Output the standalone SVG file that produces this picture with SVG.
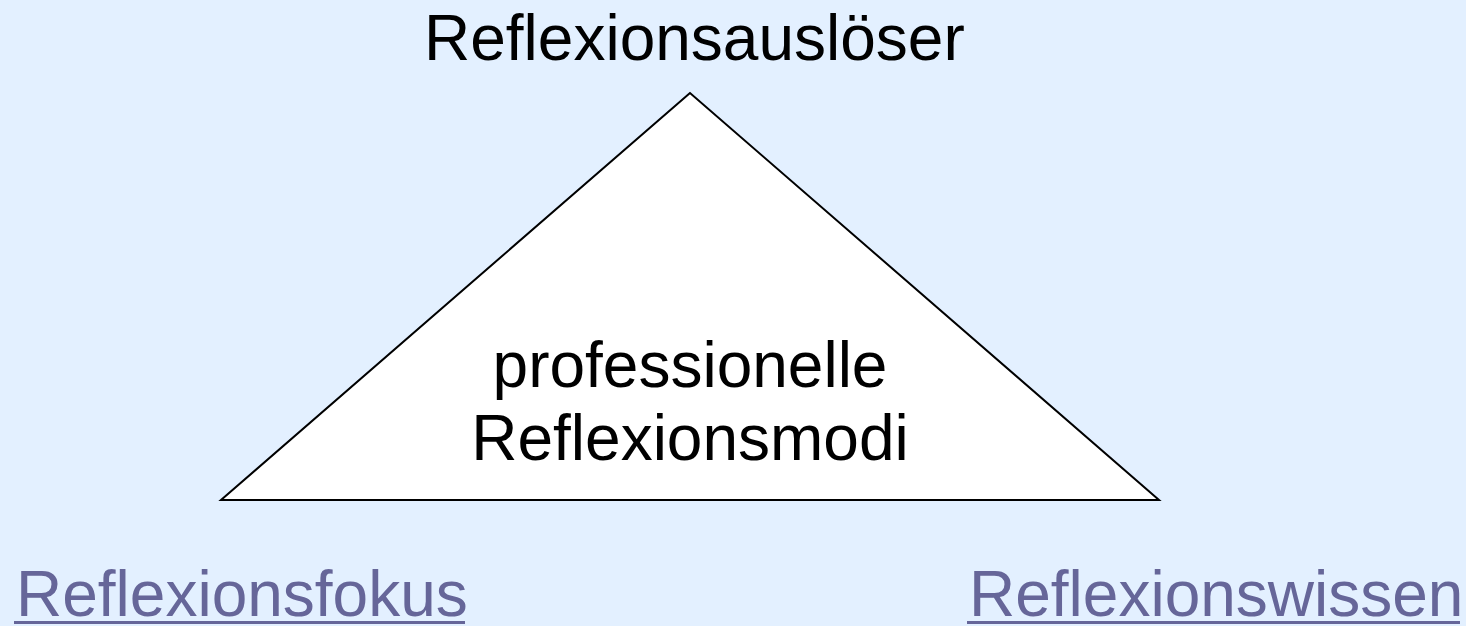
<svg xmlns="http://www.w3.org/2000/svg" width="1466" height="626" viewBox="0 0 1466 626">
<style>
.t{font-family:"Liberation Sans",Arial,sans-serif;font-size:64px;fill:#000}
.l{fill:#666699}
</style>
<rect width="1466" height="626" fill="#E3F0FF"/>
<g id="triangle">
<polygon points="690,93 221,500 1159,500" fill="#FFFFFF" stroke="#000" stroke-width="2"/>
<text class="t" x="690" y="387" text-anchor="middle">professionelle</text>
<text class="t" x="690" y="460" text-anchor="middle">Reflexionsmodi</text>
</g>
<g id="top">
<text class="t" x="424" y="60">Reflexionsauslöser</text>
</g>
<g id="left">
<text class="t l" x="16" y="616">Reflexionsfokus</text>
<rect x="14" y="621" width="451" height="3" fill="#666699"/>
</g>
<g id="right">
<text class="t l" x="969" y="616">Reflexionswissen</text>
<rect x="967" y="621" width="493" height="3" fill="#666699"/>
</g>
<g id="connectors"></g>
</svg>
